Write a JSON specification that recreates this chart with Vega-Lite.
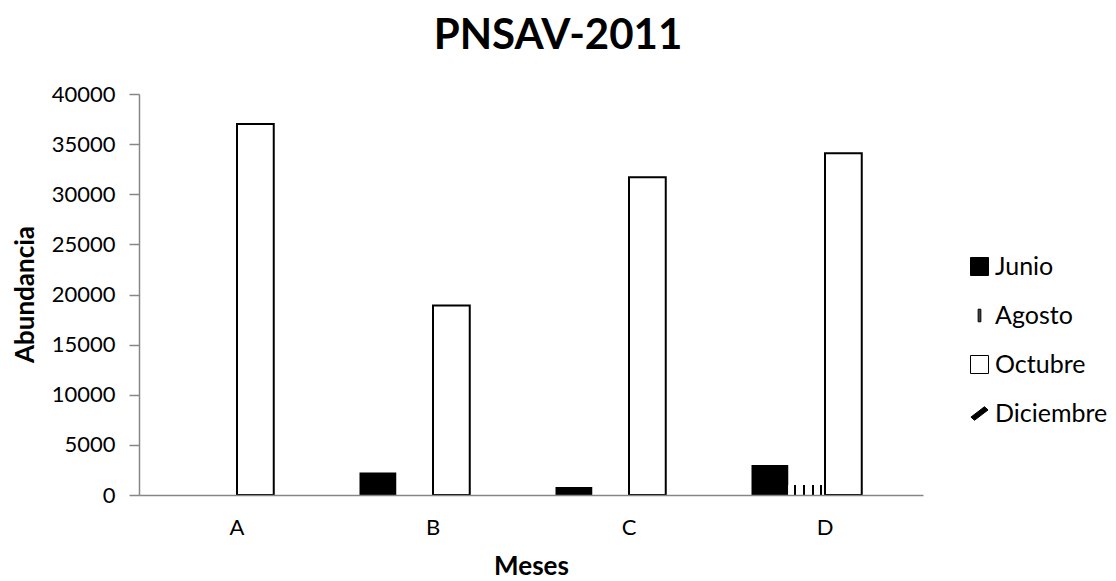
{
  "$schema": "https://vega.github.io/schema/vega-lite/v6.json",
  "width": 784,
  "height": 401,
  "autosize": {"type": "none"},
  "padding": {"left": 139, "top": 94, "right": 193, "bottom": 86},
  "background": "white",
  "title": {
    "text": "PNSAV-2011",
    "font": "Lato",
    "fontSize": 42,
    "fontWeight": "bold",
    "color": "black",
    "anchor": "middle",
    "dx": 27,
    "baseline": "alphabetic",
    "offset": -8
  },
  "data": {
    "values": [
      {"sitio": "A", "mes": "Octubre", "abundancia": 37000},
      {"sitio": "B", "mes": "Junio", "abundancia": 2250},
      {"sitio": "B", "mes": "Octubre", "abundancia": 18900},
      {"sitio": "C", "mes": "Junio", "abundancia": 800},
      {"sitio": "C", "mes": "Octubre", "abundancia": 31700},
      {"sitio": "D", "mes": "Junio", "abundancia": 3000},
      {"sitio": "D", "mes": "Agosto", "abundancia": 1000},
      {"sitio": "D", "mes": "Octubre", "abundancia": 34100}
    ]
  },
  "mark": {"type": "bar"},
  "encoding": {
    "x": {
      "field": "sitio",
      "type": "nominal",
      "scale": {"paddingInner": 0.25, "paddingOuter": 0.125},
      "axis": {
        "title": "Meses",
        "labelAngle": 0,
        "ticks": false,
        "domainColor": "#868686",
        "domainWidth": 1.5,
        "labelFont": "Lato",
        "labelFontSize": 22,
        "labelColor": "black",
        "labelPadding": 22,
        "titleFont": "Lato",
        "titleFontSize": 26,
        "titleFontWeight": "bold",
        "titleColor": "black",
        "titlePadding": 15,
        "zindex": 1
      }
    },
    "xOffset": {
      "field": "mes",
      "type": "nominal",
      "scale": {"domain": ["Junio", "Agosto", "Octubre", "Diciembre"], "paddingInner": 0, "paddingOuter": 0}
    },
    "y": {
      "field": "abundancia",
      "type": "quantitative",
      "scale": {"domain": [0, 40000], "nice": false},
      "axis": {
        "title": "Abundancia",
        "values": [0, 5000, 10000, 15000, 20000, 25000, 30000, 35000, 40000],
        "format": "d",
        "grid": false,
        "domainColor": "#868686",
        "domainWidth": 1.5,
        "tickColor": "#868686",
        "tickWidth": 1.5,
        "tickSize": 10,
        "labelFont": "Lato",
        "labelFontSize": 22,
        "labelColor": "black",
        "labelPadding": 14,
        "titleFont": "Lato",
        "titleFontSize": 26,
        "titleFontWeight": "bold",
        "titleColor": "black",
        "titleAngle": -90,
        "titleAlign": "center",
        "titleBaseline": "alphabetic",
        "titleX": -106,
        "titleY": 200
      }
    },
    "fill": {
      "field": "mes",
      "type": "nominal",
      "scale": {"domain": ["Junio", "Agosto", "Octubre", "Diciembre"], "range": ["black", "#444444", "white", "black"]},
      "condition": {
        "test": "datum.mes === 'Agosto'",
        "value": {
          "gradient": "linear",
          "x1": 0, "x2": 1, "y1": 0, "y2": 0,
          "stops": [
            {"offset": 0, "color": "white"},
            {"offset": 0.16, "color": "white"},
            {"offset": 0.16, "color": "black"},
            {"offset": 0.22, "color": "black"},
            {"offset": 0.22, "color": "white"},
            {"offset": 0.4, "color": "white"},
            {"offset": 0.4, "color": "black"},
            {"offset": 0.46, "color": "black"},
            {"offset": 0.46, "color": "white"},
            {"offset": 0.64, "color": "white"},
            {"offset": 0.64, "color": "black"},
            {"offset": 0.7, "color": "black"},
            {"offset": 0.7, "color": "white"},
            {"offset": 0.86, "color": "white"},
            {"offset": 0.86, "color": "black"},
            {"offset": 0.92, "color": "black"},
            {"offset": 0.92, "color": "white"},
            {"offset": 1, "color": "white"}
          ]
        }
      },
      "legend": {
        "title": null,
        "orient": "none",
        "legendX": 828,
        "legendY": 160,
        "labelFont": "Lato",
        "labelFontSize": 25,
        "labelColor": "black",
        "labelOffset": 3,
        "symbolSize": 324,
        "symbolStrokeColor": "black",
        "symbolStrokeWidth": 1,
        "rowPadding": 23,
        "encode": {
          "symbols": {
            "update": {
              "shape": {"signal": "datum.value === 'Agosto' ? 'M-0.15,-0.7H0.15V0.7H-0.15Z' : datum.value === 'Diciembre' ? 'M0.55,-0.75L0.95,-0.4L-0.55,0.75L-0.95,0.4Z' : 'square'"}
            }
          }
        }
      }
    },
    "stroke": {
      "condition": {"test": "datum.mes === 'Octubre'", "value": "black"},
      "value": null
    },
    "strokeWidth": {"value": 2}
  },
  "config": {"view": {"stroke": null}}
}
